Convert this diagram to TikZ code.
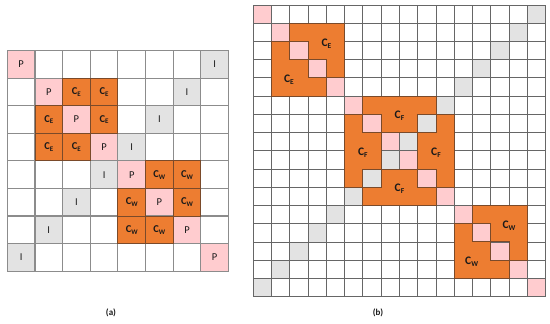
\documentclass[tikz,border=0pt]{standalone}
\usepackage{fontspec}
\setmainfont{Carlito}
\definecolor{pinkc}{HTML}{FFCCCF}
\definecolor{greyc}{HTML}{E3E3E3}
\definecolor{orangec}{HTML}{ED7D31}
\definecolor{orangeb}{HTML}{7A4A2A}
\definecolor{gridA}{HTML}{8C8C8C}
\definecolor{gridB}{HTML}{666666}
\definecolor{txt}{HTML}{1A1A1A}
\newcommand{\Csub}[2]{C\raisebox{-0.35ex}{\fontsize{#2}{#2}\selectfont #1}}
\tikzset{
  gridlineA/.style={draw=gridA, line width=1.1pt},
  gridlineB/.style={draw=gridB, line width=0.9pt},
  orangecell/.style={fill=orangec, draw=orangeb, line width=0.9pt},
  orangeregion/.style={fill=orangec, draw=orangeb, line width=1pt, line join=miter},
  lblA/.style={font=\fontsize{10.5}{10.5}\selectfont, text=txt, inner sep=0pt},
  lblAc/.style={font=\fontsize{10.5}{10.5}\selectfont\bfseries, text=txt, inner sep=0pt},
  lblB/.style={font=\fontsize{11.5}{11.5}\selectfont\bfseries, text=txt, inner sep=0pt},
  caption/.style={font=\fontsize{9}{9}\selectfont\bfseries, text=txt, inner sep=0pt}
}
\begin{document}
\begin{tikzpicture}[x=1pt,y=-1pt]
\useasboundingbox (0,0) rectangle (550,324);
\fill[white] (0,0) rectangle (550,324);

% ---------------- (a) ----------------
\begin{scope}[xshift=7.3pt,yshift=-50.7pt,x=27.65pt,y=-27.55pt]
  \foreach \i in {0,...,7} {
    \fill[pinkc] (\i,\i) rectangle ++(1,1);
    \pgfmathtruncatemacro{\j}{7-\i}
    \fill[greyc] (\j,\i) rectangle ++(1,1);
  }
  \foreach \i in {0,...,8} {
    \draw[gridlineA] (\i,0) -- (\i,8);
    \draw[gridlineA] (0,\i) -- (8,\i);
  }
  \foreach \r/\c in {1/2,1/3,2/1,2/3,3/1,3/2,4/5,4/6,5/4,5/6,6/4,6/5}
    \draw[orangecell] (\c,\r) rectangle ++(1,1);
  \foreach \i in {0,...,7} {
    \node[lblA] (pa-\i) at (\i+0.5,\i+0.5) {P};
    \pgfmathtruncatemacro{\j}{7-\i}
    \node[lblA] (ia-\i) at (\j+0.5,\i+0.5) {I};
  }
  \foreach \r/\c in {1/2,1/3,2/1,2/3,3/1,3/2}
    \node[lblAc] (ce-\r-\c) at (\c+0.5,\r+0.5) {\Csub{E}{7}};
  \foreach \r/\c in {4/5,4/6,5/4,5/6,6/4,6/5}
    \node[lblAc] (cw-\r-\c) at (\c+0.5,\r+0.5) {\Csub{W}{7}};
\end{scope}

% ---------------- (b) ----------------
\begin{scope}[xshift=253.3pt,yshift=-5pt,x=18.27pt,y=-18.23pt]
  \foreach \i in {0,...,15} {
    \fill[pinkc] (\i,\i) rectangle ++(1,1);
    \pgfmathtruncatemacro{\j}{15-\i}
    \fill[greyc] (\j,\i) rectangle ++(1,1);
  }
  \foreach \i in {0,...,16} {
    \draw[gridlineB] (\i,0) -- (\i,16);
    \draw[gridlineB] (0,\i) -- (16,\i);
  }
  % blocks E and W
  \foreach \s/\nm in {1/E,11/W} {
    \draw[orangeregion] (\s+1,\s) -- (\s+4,\s) -- (\s+4,\s+3) -- (\s+3,\s+3) -- (\s+3,\s+2)
      -- (\s+2,\s+2) -- (\s+2,\s+1) -- (\s+1,\s+1) -- cycle;
    \draw[orangeregion] (\s,\s+1) -- (\s+1,\s+1) -- (\s+1,\s+2) -- (\s+2,\s+2) -- (\s+2,\s+3)
      -- (\s+3,\s+3) -- (\s+3,\s+4) -- (\s,\s+4) -- cycle;
    \node[lblB] (up\nm) at (\s+3,\s+1.1) {\Csub{\nm}{7.5}};
    \node[lblB] (lo\nm) at (\s+0.95,\s+3.1) {\Csub{\nm}{7.5}};
  }
  % block F
  \draw[orangeregion] (6,5) -- (10,5) -- (10,6) -- (9,6) -- (9,7) -- (7,7) -- (7,6) -- (6,6) -- cycle;
  \draw[orangeregion] (6,11) -- (10,11) -- (10,10) -- (9,10) -- (9,9) -- (7,9) -- (7,10) -- (6,10) -- cycle;
  \draw[orangeregion] (5,6) -- (6,6) -- (6,7) -- (7,7) -- (7,9) -- (6,9) -- (6,10) -- (5,10) -- cycle;
  \draw[orangeregion] (11,6) -- (10,6) -- (10,7) -- (9,7) -- (9,9) -- (10,9) -- (10,10) -- (11,10) -- cycle;
  \node[lblB] (fT) at (8,6.1) {\Csub{F}{7.5}};
  \node[lblB] (fB) at (8,10.1) {\Csub{F}{7.5}};
  \node[lblB] (fL) at (6,8.1) {\Csub{F}{7.5}};
  \node[lblB] (fR) at (10,8.1) {\Csub{F}{7.5}};
\end{scope}

\node[caption] (capa) at (111,313) {(a)};
\node[caption] (capb) at (378,313) {(b)};
\end{tikzpicture}
\end{document}
